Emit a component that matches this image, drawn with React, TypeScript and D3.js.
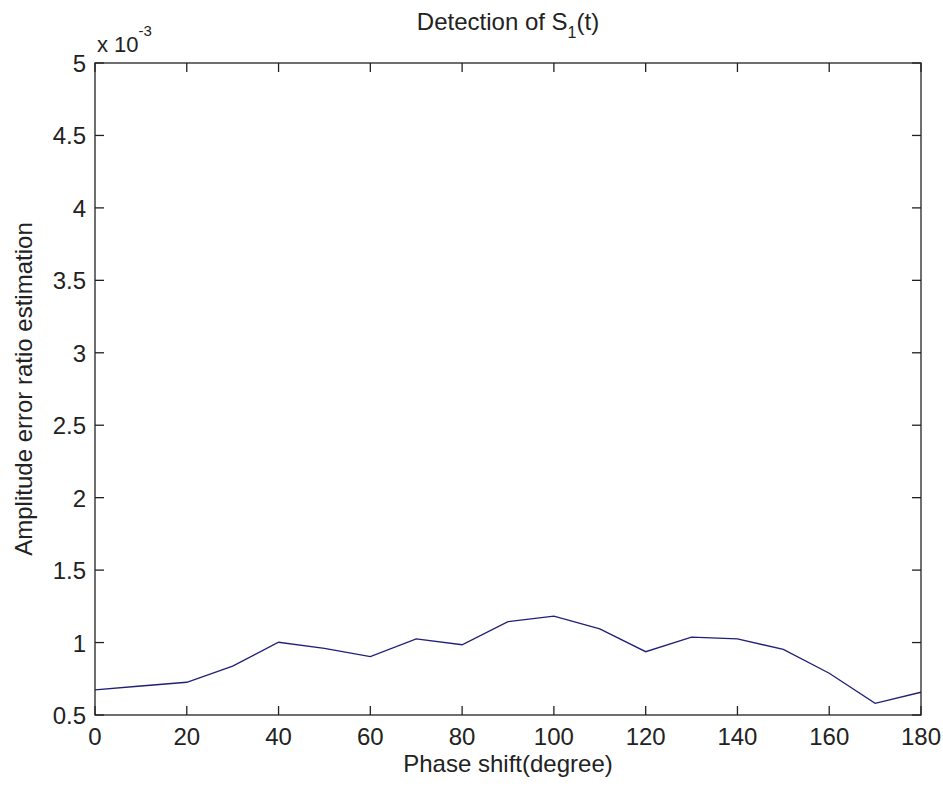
import React from "react";
import * as d3 from "d3";

const phaseShift = [0, 10, 20, 30, 40, 50, 60, 70, 80, 90, 100, 110, 120, 130, 140, 150, 160, 170, 180];
const errorRatio = [0.673, 0.70, 0.726, 0.838, 1.002, 0.96, 0.903, 1.025, 0.985, 1.144, 1.183, 1.094, 0.937, 1.038, 1.025, 0.953, 0.788, 0.581, 0.657];
const xTicks = [0, 20, 40, 60, 80, 100, 120, 140, 160, 180];
const yTicks = [0.5, 1, 1.5, 2, 2.5, 3, 3.5, 4, 4.5, 5];

const W = 943;
const H = 787;
const M = { left: 95, right: 921, top: 63, bottom: 715 };
const FONT = "'Liberation Sans', Arial, Helvetica, sans-serif";

export default function App() {
  const x = d3.scaleLinear().domain([0, 180]).range([M.left, M.right]);
  const y = d3.scaleLinear().domain([0.5, 5]).range([M.bottom, M.top]);
  const line = d3
    .line<number>()
    .x((_, i) => x(phaseShift[i]))
    .y((d) => y(d));
  const tick = 9;
  const axisColor = "#222";
  return (
    <svg
      width={W}
      height={H}
      style={{ position: "absolute", left: 0, top: 0, background: "#fff" }}
      fontFamily={FONT}
    >
      <rect x={0} y={0} width={W} height={H} fill="#fff" />
      {/* data line */}
      <path d={line(errorRatio) || ""} fill="none" stroke="#1f1f78" strokeWidth={1.3} />
      {/* box */}
      <rect
        x={M.left}
        y={M.top}
        width={M.right - M.left}
        height={M.bottom - M.top}
        fill="none"
        stroke={axisColor}
        strokeWidth={1.3}
      />
      {/* x ticks */}
      {xTicks.map((t) => (
        <g key={"x" + t}>
          <line x1={x(t)} x2={x(t)} y1={M.bottom} y2={M.bottom - tick} stroke={axisColor} strokeWidth={1.3} />
          <line x1={x(t)} x2={x(t)} y1={M.top} y2={M.top + tick} stroke={axisColor} strokeWidth={1.3} />
          <text x={x(t)} y={745} textAnchor="middle" fontSize={24} fill="#222">
            {t}
          </text>
        </g>
      ))}
      {/* y ticks */}
      {yTicks.map((t) => (
        <g key={"y" + t}>
          <line x1={M.left} x2={M.left + tick} y1={y(t)} y2={y(t)} stroke={axisColor} strokeWidth={1.3} />
          <line x1={M.right} x2={M.right - tick} y1={y(t)} y2={y(t)} stroke={axisColor} strokeWidth={1.3} />
          <text x={86} y={y(t) + 9} textAnchor="end" fontSize={24} fill="#222">
            {t}
          </text>
        </g>
      ))}
      {/* exponent */}
      <text x={97} y={52} fontSize={22} fill="#222">
        x 10
        <tspan fontSize={15} dy={-16}>-3</tspan>
      </text>
      {/* title */}
      <text x={(M.left + M.right) / 2} y={30} textAnchor="middle" fontSize={24} fill="#222">
        Detection of S
        <tspan fontSize={16} dy={8}>1</tspan>
        <tspan dy={-8}>(t)</tspan>
      </text>
      {/* x label */}
      <text x={(M.left + M.right) / 2} y={772} textAnchor="middle" fontSize={24} fill="#222">
        Phase shift(degree)
      </text>
      {/* y label */}
      <text
        transform={`translate(32, ${(M.top + M.bottom) / 2}) rotate(-90)`}
        textAnchor="middle"
        fontSize={24}
        fill="#222"
      >
        Amplitude error ratio estimation
      </text>
    </svg>
  );
}
